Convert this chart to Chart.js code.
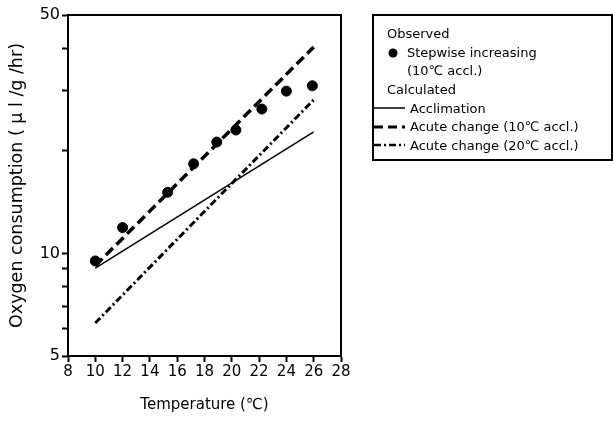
<!DOCTYPE html>
<html>
<head>
<meta charset="utf-8">
<script src="https://cdn.jsdelivr.net/npm/chart.js@4/dist/chart.umd.min.js"></script>
<style>
  html, body { margin: 0; padding: 0; background: #fff; }
  #wrap { width: 613px; height: 421px; position: relative; }
</style>
</head>
<body>
<div id="wrap"><canvas id="c"></canvas></div>
<script>
// observed: stepwise increasing temperature (10 C acclimated)
const obsTemp = [10, 12, 15.3, 17.2, 18.9, 20.3, 22.2, 24, 25.9];
const obsO2   = [9.5, 11.9, 15.1, 18.3, 21.2, 23.0, 26.5, 29.9, 31.0];

// calculated lines (end points)
const lineTemp = [10, 26];
const acclim   = [9.05, 22.7];
const acute10  = [9.2, 40.3];
const acute20  = [6.25, 28.2];

const yTicks  = [5, 6, 7, 8, 9, 10, 20, 30, 40, 50];
const yLabels = [5, 10, 50];

const FONT = '"DejaVu Sans", Verdana, sans-serif';

const pts = (xs, ys) => xs.map((x, i) => ({ x, y: ys[i] }));

// box around the plot + hand-made legend panel
const framePlugin = {
  id: 'frame',
  afterDraw(chart) {
    const { ctx, chartArea: a } = chart;
    ctx.save();
    ctx.strokeStyle = '#000';
    ctx.lineWidth = 2;
    ctx.strokeRect(a.left, a.top, a.right - a.left, a.bottom - a.top);

    // legend box
    ctx.strokeRect(373, 15, 239, 145);
    ctx.fillStyle = '#000';
    ctx.font = '13px ' + FONT;
    ctx.textBaseline = 'alphabetic';
    ctx.fillText('Observed', 387, 38);
    ctx.beginPath();
    ctx.arc(393, 53, 4.5, 0, Math.PI * 2);
    ctx.fill();
    ctx.fillText('Stepwise increasing', 407, 57);
    ctx.fillText('(10\u2103 accl.)', 407, 75);
    ctx.fillText('Calculated', 387, 94);

    const sample = (y, dash, w) => {
      ctx.beginPath();
      ctx.setLineDash(dash);
      ctx.lineWidth = w;
      ctx.moveTo(374, y);
      ctx.lineTo(405, y);
      ctx.stroke();
    };
    sample(108, [], 1.5);
    ctx.fillText('Acclimation', 410, 113);
    sample(127, [9, 5], 3);
    ctx.fillText('Acute change (10\u2103 accl.)', 410, 131);
    sample(145, [7, 3, 2, 3], 2.5);
    ctx.fillText('Acute change (20\u2103 accl.)', 410, 150);
    ctx.restore();
  }
};

new Chart(document.getElementById('c'), {
  type: 'scatter',
  data: {
    datasets: [
      {
        label: 'Stepwise increasing (10\u2103 accl.)',
        data: pts(obsTemp, obsO2),
        pointRadius: 5,
        pointBackgroundColor: '#000',
        pointBorderColor: '#000',
        showLine: false,
      },
      {
        label: 'Acclimation',
        data: pts(lineTemp, acclim),
        showLine: true, pointRadius: 0,
        borderColor: '#000', borderWidth: 1.5,
      },
      {
        label: 'Acute change (10\u2103 accl.)',
        data: pts(lineTemp, acute10),
        showLine: true, pointRadius: 0,
        borderColor: '#000', borderWidth: 3.5, borderDash: [10, 5],
      },
      {
        label: 'Acute change (20\u2103 accl.)',
        data: pts(lineTemp, acute20),
        showLine: true, pointRadius: 0,
        borderColor: '#000', borderWidth: 3, borderDash: [7, 3, 2, 3],
      },
    ],
  },
  options: {
    responsive: true,
    maintainAspectRatio: false,
    animation: false,
    layout: { padding: { top: 15, right: 272, left: 0, bottom: 0 } },
    plugins: { legend: { display: false }, tooltip: { enabled: false } },
    scales: {
      x: {
        type: 'linear', min: 8, max: 28,
        ticks: { stepSize: 2, color: '#000', font: { family: FONT, size: 15 }, padding: 1, maxRotation: 0, autoSkip: false },
        grid: { drawOnChartArea: false, drawTicks: true, tickLength: 6, tickColor: '#000', tickWidth: 2 },
        border: { display: true, color: '#000', width: 2 },
        title: { display: true, text: 'Temperature (\u2103)', color: '#000', font: { family: FONT, size: 15 }, padding: { top: 0, bottom: 7 } },
        afterFit: s => { s.height = 65; },
      },
      y: {
        type: 'logarithmic', min: 5, max: 50,
        afterBuildTicks: s => { s.ticks = yTicks.map(v => ({ value: v })); },
        ticks: {
          color: '#000', font: { family: FONT, size: 16 }, padding: 2, autoSkip: false,
          callback: v => (yLabels.includes(v) ? String(v) : ''),
        },
        grid: { drawOnChartArea: false, drawTicks: true, tickLength: 6, tickColor: '#000', tickWidth: 2 },
        border: { display: true, color: '#000', width: 2 },
        title: { display: true, text: 'Oxygen consumption ( \u03bc l /g /hr)', color: '#000', font: { family: FONT, size: 17.5 }, padding: { top: 7, bottom: 0 } },
        afterFit: s => { s.width = 68; },
      },
    },
  },
  plugins: [framePlugin],
});
</script>
</body>
</html>
